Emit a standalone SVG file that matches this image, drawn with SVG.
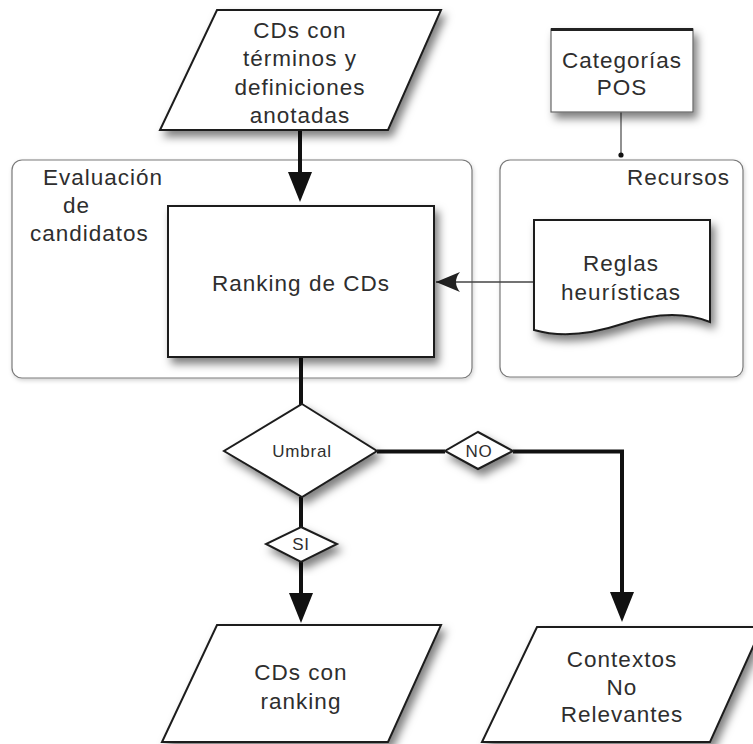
<svg xmlns="http://www.w3.org/2000/svg" width="753" height="744" viewBox="0 0 753 744">
  <style>
    .lbl { font-family: "Liberation Sans", Arial, sans-serif; font-size: 22.5px; letter-spacing: 1px; fill: #2e2e2e; text-anchor: middle; }
    .small { font-size: 17px; letter-spacing: 0.8px; }
    .shape { fill: #ffffff; stroke: #1e1e1e; stroke-width: 2; }
    .group { fill: #ffffff; stroke: #7a7a7a; stroke-width: 1.2; }
    .flow { fill: none; stroke: #111111; stroke-width: 4; }
    .thin { fill: none; stroke: #444444; stroke-width: 1.5; }
  </style>
  <defs>
    <filter id="shadow" x="-20%" y="-20%" width="150%" height="160%">
      <feDropShadow dx="4" dy="6" stdDeviation="4.5" flood-color="#000" flood-opacity="0.5"/>
    </filter>
    <filter id="softShadow" x="-10%" y="-10%" width="120%" height="130%">
      <feDropShadow dx="1" dy="2" stdDeviation="2" flood-color="#000" flood-opacity="0.18"/>
    </filter>
    <marker id="arrowBold" viewBox="0 0 30 24" markerWidth="30" markerHeight="24" refX="0" refY="12" orient="auto" markerUnits="userSpaceOnUse">
      <path d="M0,0 L30,12 L0,24 Z" fill="#111111"/>
    </marker>
    <marker id="arrowThin" viewBox="0 0 24 20" markerWidth="24" markerHeight="20" refX="24" refY="10" orient="auto" markerUnits="userSpaceOnUse">
      <path d="M0,0 L24,10 L0,20 Q8,10 0,0 Z" fill="#222222"/>
    </marker>
  </defs>

  <rect width="753" height="744" fill="#ffffff"/>

  <!-- containers -->
  <g id="evaluacion">
    <rect class="group" x="12" y="160" width="460" height="218" rx="10" filter="url(#softShadow)"/>
    <text class="lbl" style="text-anchor:start" x="43" y="185">Evaluación</text>
    <text class="lbl" style="text-anchor:start" x="63" y="213">de</text>
    <text class="lbl" style="text-anchor:start" x="30" y="241">candidatos</text>
  </g>
  <g id="recursos">
    <rect class="group" x="500" y="160" width="243" height="217" rx="10" filter="url(#softShadow)"/>
    <text class="lbl" style="text-anchor:end" x="730" y="185">Recursos</text>
  </g>

  <!-- connectors -->
  <g id="connectors">
    <path class="flow" d="M300,130 V172" marker-end="url(#arrowBold)"/>
    <path class="flow" d="M301,357 V405"/>
    <path class="flow" d="M301,497 V527"/>
    <path class="flow" d="M301,562 V593" marker-end="url(#arrowBold)"/>
    <path class="flow" d="M377,451.5 H445"/>
    <path class="flow" d="M513,451.5 H622 V592" marker-end="url(#arrowBold)"/>
    <path class="thin" d="M534,282 H436" marker-end="url(#arrowThin)"/>
    <path d="M621,112 V155" stroke="#555555" stroke-width="1.3" fill="none"/>
    <circle cx="621" cy="155" r="2.6" fill="#111111"/>
  </g>

  <!-- nodes -->
  <g id="cds-anotadas">
    <polygon class="shape" points="217,10 441,10 388,130 160,130" filter="url(#shadow)"/>
    <text class="lbl" x="300" y="38">CDs con</text>
    <text class="lbl" x="300" y="66">términos y</text>
    <text class="lbl" x="300" y="95">definiciones</text>
    <text class="lbl" x="300" y="123">anotadas</text>
  </g>

  <g id="categorias-pos">
    <rect x="551" y="29" width="142" height="83" fill="#ffffff" stroke="#666666" stroke-width="1.2" filter="url(#shadow)"/>
    <line x1="551" y1="29.5" x2="693" y2="29.5" stroke="#222222" stroke-width="3"/>
    <text class="lbl" x="622" y="68">Categorías</text>
    <text class="lbl" x="622" y="95">POS</text>
  </g>

  <g id="ranking">
    <rect class="shape" x="168" y="206" width="266" height="151" filter="url(#shadow)"/>
    <text class="lbl" x="301" y="291">Ranking de CDs</text>
  </g>

  <g id="reglas">
    <path class="shape" d="M534,220 H710 V322 C685,312 655,313 622,324 C592,334 562,338 534,330 Z" filter="url(#shadow)"/>
    <text class="lbl" x="621" y="271">Reglas</text>
    <text class="lbl" x="621" y="300">heurísticas</text>
  </g>

  <g id="umbral">
    <polygon class="shape" points="302,404 377,451 302,497 224,451" filter="url(#shadow)"/>
    <text class="lbl small" x="302" y="457">Umbral</text>
  </g>

  <g id="no">
    <polygon class="shape" points="478,432 513,451 478,469 445,451" filter="url(#shadow)"/>
    <text class="lbl small" x="479" y="457">NO</text>
  </g>

  <g id="si">
    <polygon class="shape" points="301,527 337,544 301,562 266,544" filter="url(#shadow)"/>
    <text class="lbl small" x="301" y="550">SI</text>
  </g>

  <g id="cds-ranking">
    <polygon class="shape" points="217,625 441,625 388,742 162,742" filter="url(#shadow)"/>
    <text class="lbl" x="301" y="680">CDs con</text>
    <text class="lbl" x="301" y="709">ranking</text>
  </g>

  <g id="contextos">
    <polygon class="shape" points="537,627 762,627 710,742 482,742" filter="url(#shadow)"/>
    <text class="lbl" x="622" y="667">Contextos</text>
    <text class="lbl" x="622" y="695">No</text>
    <text class="lbl" x="622" y="722">Relevantes</text>
  </g>
</svg>
